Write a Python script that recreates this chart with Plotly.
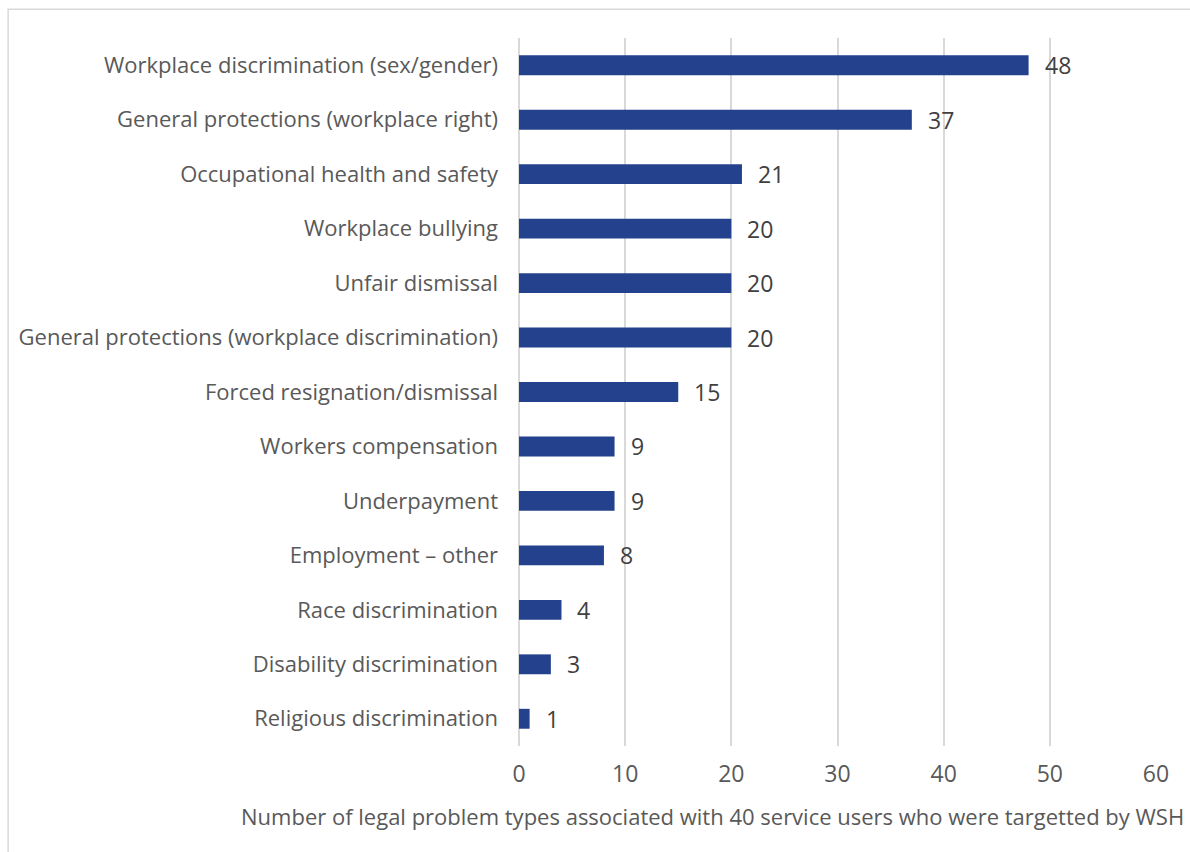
import plotly.graph_objects as go

categories = [
    "Workplace discrimination (sex/gender)",
    "General protections (workplace right)",
    "Occupational health and safety",
    "Workplace bullying",
    "Unfair dismissal",
    "General protections (workplace discrimination)",
    "Forced resignation/dismissal",
    "Workers compensation",
    "Underpayment",
    "Employment \u2013 other",
    "Race discrimination",
    "Disability discrimination",
    "Religious discrimination",
]
counts = [48, 37, 21, 20, 20, 20, 15, 9, 9, 8, 4, 3, 1]
x_ticks = [0, 10, 20, 30, 40, 50, 60]
x_title = "Number of legal problem types associated with 40 service users who were targetted by WSH"

FONT = "Open Sans"
BAR = "#23418C"
GRID = "#D9D9D9"

fig = go.Figure(
    go.Bar(
        x=counts,
        y=categories,
        orientation="h",
        marker=dict(color=BAR, line=dict(width=0)),
        hoverinfo="x+y",
    )
)

# value labels to the right of each bar
for cat, val in zip(categories, counts):
    fig.add_annotation(
        x=val, y=cat, xref="x", yref="y",
        text=str(val), showarrow=False,
        xanchor="left", yanchor="middle", xshift=14,
        font=dict(family=FONT, size=23, color="#404040"),
    )

# axis title, offset to the left like the original layout
fig.add_annotation(
    x=0.303, y=-0.099, xref="paper", yref="paper",
    text=x_title, showarrow=False,
    xanchor="center", yanchor="middle",
    font=dict(family=FONT, size=22, color="#595959"),
)

# light outer frame
fig.add_shape(
    type="rect", xref="paper", yref="paper",
    x0=-0.802, x1=1.2, y0=-0.3, y1=1.0407,
    line=dict(color=GRID, width=1.5), fillcolor="rgba(0,0,0,0)", layer="below",
)

fig.update_layout(
    width=1190, height=852,
    margin=dict(l=519, r=34, t=38, b=106),
    paper_bgcolor="white", plot_bgcolor="white",
    bargap=0.635,
    showlegend=False,
    font=dict(family=FONT, color="#595959"),
    xaxis=dict(
        range=[0, 60], tickvals=x_ticks, showgrid=True, gridcolor=GRID, gridwidth=1.5,
        zeroline=True, zerolinecolor=GRID, zerolinewidth=1.5,
        showline=False, ticks="", ticklabelstandoff=12,
        tickfont=dict(family=FONT, size=23, color="#595959"),
        fixedrange=True,
    ),
    yaxis=dict(
        categoryorder="array", categoryarray=categories, autorange="reversed",
        showgrid=False, zeroline=False, showline=False, ticks="",
        ticklabelstandoff=20,
        tickfont=dict(family=FONT, size=22, color="#595959"),
        fixedrange=True,
    ),
)

fig.write_html("out.html")
